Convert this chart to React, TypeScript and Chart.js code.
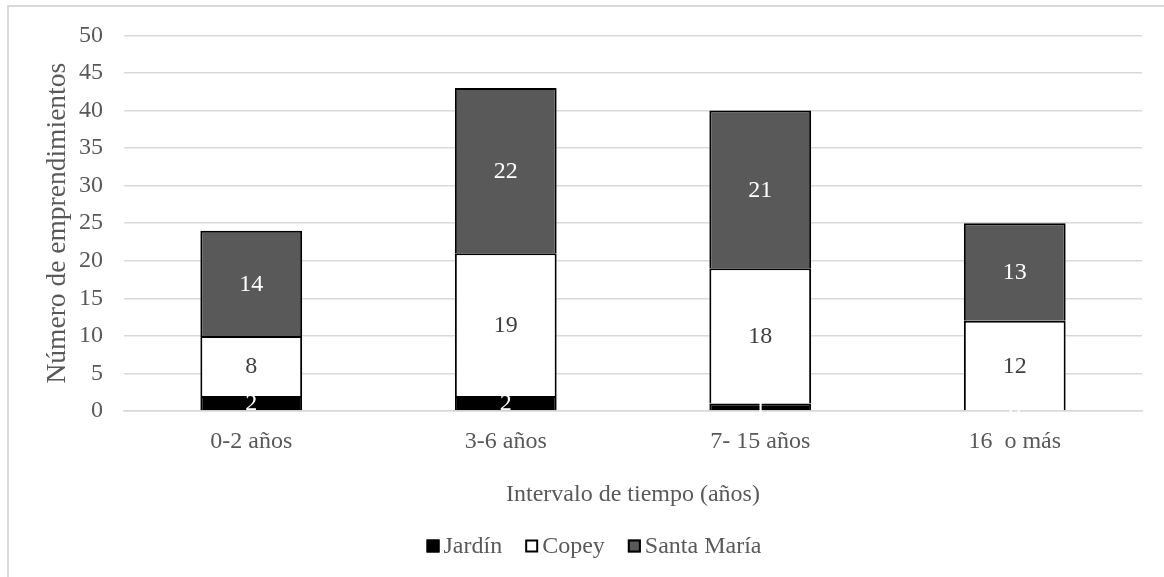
import React, { useEffect, useRef } from "react";
import { Chart, registerables } from "chart.js";

Chart.register(...registerables);

const categories = ["0-2 años", "3-6 años", "7- 15 años", "16  o más"];
const jardin = [2, 2, 1, 0];
const copey = [8, 19, 18, 12];
const santaMaria = [14, 22, 21, 13];
const seriesNames = ["Jardín", "Copey", "Santa María"];

const FONT = "'Liberation Serif', 'Times New Roman', serif";
const TEXT = "#595959";

const framePlugin = {
  id: "frame",
  beforeDraw(chart: any) {
    const ctx = chart.ctx;
    ctx.save();
    ctx.fillStyle = "#ffffff";
    ctx.fillRect(0, 0, chart.width, chart.height);
    ctx.strokeStyle = "#d9d9d9";
    ctx.lineWidth = 2;
    ctx.strokeRect(8, 6, 1300, 800);
    ctx.restore();
  },
};

const labelPlugin = {
  id: "barLabels",
  afterDatasetsDraw(chart: any) {
    const ctx = chart.ctx;
    ctx.save();
    ctx.font = `24px ${FONT}`;
    ctx.textAlign = "center";
    ctx.textBaseline = "middle";
    chart.data.datasets.forEach((ds: any, di: number) => {
      const meta = chart.getDatasetMeta(di);
      meta.data.forEach((el: any, i: number) => {
        const v = ds.data[i];
        const cy = (el.y + el.base) / 2;
        ctx.fillStyle = di === 1 ? "#404040" : "#ffffff";
        ctx.fillText(String(v), el.x, cy + 1);
      });
    });
    ctx.restore();
  },
};

const legendPlugin = {
  id: "customLegend",
  afterDraw(chart: any) {
    const ctx = chart.ctx;
    ctx.save();
    ctx.font = `24px ${FONT}`;
    ctx.textBaseline = "middle";
    const box = 13;
    const gap = 4;
    const itemGap = 23;
    const ds = chart.data.datasets;
    const widths = ds.map((d: any) => box + gap + ctx.measureText(d.label).width);
    const total = widths.reduce((a: number, b: number) => a + b, 0) + itemGap * (ds.length - 1);
    let x = 594 - total / 2;
    const y = 546;
    ds.forEach((d: any, i: number) => {
      ctx.fillStyle = d.backgroundColor;
      ctx.fillRect(x, y - box / 2, box, box);
      ctx.strokeStyle = "#000000";
      ctx.lineWidth = 2;
      ctx.strokeRect(x + 1, y - box / 2 + 1, box - 2, box - 2);
      ctx.fillStyle = TEXT;
      ctx.textAlign = "left";
      ctx.fillText(d.label, x + box + gap, y + 1);
      x += widths[i] + itemGap;
    });
    ctx.restore();
  },
};

export default function App() {
  const ref = useRef<HTMLCanvasElement>(null);

  useEffect(() => {
    if (!ref.current) return;
    const chart = new Chart(ref.current, {
      type: "bar",
      data: {
        labels: categories,
        datasets: [
          { label: seriesNames[0], data: jardin, backgroundColor: "#000000", borderColor: "#000000", borderWidth: 2 },
          { label: seriesNames[1], data: copey, backgroundColor: "#ffffff", borderColor: "#000000", borderWidth: 2 },
          { label: seriesNames[2], data: santaMaria, backgroundColor: "#595959", borderColor: "#000000", borderWidth: 2 },
        ],
      },
      options: {
        responsive: false,
        animation: false,
        layout: { padding: { top: 35, right: 22, left: 0, bottom: 0 } },
        datasets: { bar: { categoryPercentage: 1, barPercentage: 0.4 } },
        plugins: {
          legend: { display: false },
          tooltip: { enabled: false },
        },
        scales: {
          x: {
            stacked: true,
            grid: { display: false },
            border: { display: true, color: "#d9d9d9", width: 1.5 },
            ticks: { color: TEXT, font: { family: FONT, size: 24 }, padding: 8 },
            title: {
              display: true,
              text: "Intervalo de tiempo (años)",
              color: TEXT,
              font: { family: FONT, size: 24 },
              padding: { top: 0, bottom: 68 },
            },
            afterFit(scale: any) {
              scale.height = 577 - 411;
            },
          },
          y: {
            stacked: true,
            min: 0,
            max: 50,
            grid: { color: "#d9d9d9", lineWidth: 1.5, drawTicks: false },
            border: { display: false },
            ticks: { stepSize: 5, color: TEXT, font: { family: FONT, size: 24 }, padding: 21 },
            title: {
              display: true,
              text: "Número de emprendimientos",
              color: TEXT,
              font: { family: FONT, size: 27.5 },
              padding: { top: 41, bottom: 0 },
            },
            afterFit(scale: any) {
              scale.width = 124;
            },
          },
        },
      },
      plugins: [framePlugin, labelPlugin, legendPlugin],
    });
    return () => chart.destroy();
  }, []);

  return (
    <div style={{ position: "fixed", left: 0, top: 0, width: 1164, height: 577 }}>
      <canvas ref={ref} width={1164} height={577} style={{ display: "block" }} />
    </div>
  );
}
